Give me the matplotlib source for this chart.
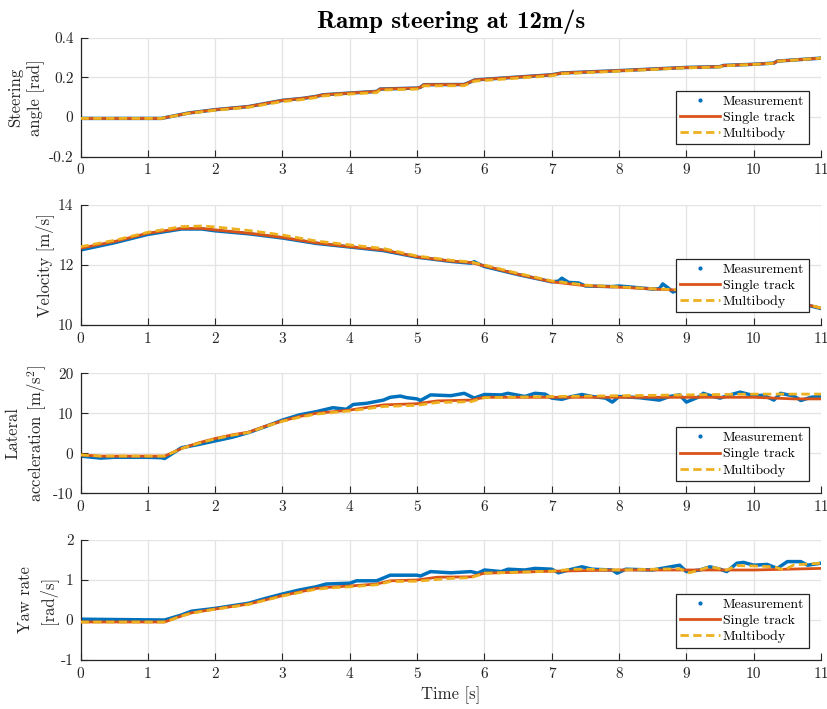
import matplotlib
matplotlib.use("Agg")
import matplotlib.pyplot as plt
from matplotlib.lines import Line2D

plt.rcParams["font.family"] = ["cmr10", "DejaVu Serif"]
plt.rcParams["mathtext.fontset"] = "cm"
plt.rcParams["axes.unicode_minus"] = False
plt.rcParams["axes.formatter.use_mathtext"] = True

BLUE = "#0072BD"
ORANGE = "#D95319"
YELLOW = "#EDB120"
DASH = (0, (3.0, 1.6))

# ---- Steering angle [rad] ----
steer_t = [0, 1.2, 1.6, 2.0, 2.5, 3.0, 3.3, 3.5, 3.6, 4.0, 4.4, 4.45, 5.0, 5.05, 5.1,
           5.7, 5.77, 5.85, 5.9, 7.0, 7.15, 8.0, 9.0, 9.5, 9.55, 10.0, 10.3, 10.35, 11.0]
steer_meas = [-0.007, -0.007, 0.02, 0.037, 0.053, 0.084, 0.094, 0.104, 0.112, 0.121, 0.129,
              0.141, 0.146, 0.150, 0.163, 0.164, 0.174, 0.186, 0.188, 0.213, 0.222, 0.234,
              0.250, 0.254, 0.260, 0.266, 0.272, 0.282, 0.297]
steer_single = [-0.007, -0.007, 0.02, 0.037, 0.053, 0.084, 0.094, 0.104, 0.112, 0.121, 0.129,
                0.141, 0.146, 0.150, 0.163, 0.164, 0.174, 0.186, 0.188, 0.213, 0.222, 0.234,
                0.250, 0.254, 0.260, 0.266, 0.272, 0.282, 0.297]
steer_multi = [-0.007, -0.007, 0.018, 0.034, 0.049, 0.078, 0.088, 0.098, 0.106, 0.116, 0.123,
               0.136, 0.141, 0.144, 0.157, 0.158, 0.168, 0.180, 0.182, 0.208, 0.218, 0.231,
               0.248, 0.252, 0.258, 0.265, 0.271, 0.281, 0.297]

# ---- Velocity [m/s] ----
vel_meas_t = [0, 0.5, 1.0, 1.5, 1.8, 2.0, 2.5, 3.0, 3.5, 4.0, 4.5, 5.0, 5.5, 5.8, 5.85,
              5.9, 6.0, 6.5, 7.0, 7.1, 7.15, 7.25, 7.4, 7.5, 7.9, 8.0, 8.5, 8.6, 8.65,
              8.72, 8.8, 8.9, 9.0, 9.5, 10.0, 10.5, 10.8, 11.0]
vel_meas = [12.50, 12.74, 13.02, 13.20, 13.20, 13.14, 13.04, 12.90, 12.72, 12.60, 12.48,
            12.26, 12.12, 12.06, 12.11, 12.05, 11.95, 11.68, 11.44, 11.46, 11.56, 11.42,
            11.40, 11.30, 11.28, 11.30, 11.20, 11.21, 11.37, 11.25, 11.10, 11.18, 11.15,
            11.04, 10.92, 10.78, 10.66, 10.55]
vel_t = [0, 0.5, 1.0, 1.5, 1.8, 2.0, 2.5, 3.0, 3.5, 4.0, 4.5, 5.0, 5.5, 5.8, 6.0, 6.5,
         7.0, 7.5, 8.0, 8.5, 8.8, 9.0, 9.5, 10.0, 10.5, 10.8, 11.0]
vel_single = [12.56, 12.78, 13.06, 13.22, 13.22, 13.17, 13.06, 12.92, 12.74, 12.61, 12.50,
              12.27, 12.13, 12.08, 11.97, 11.69, 11.44, 11.31, 11.26, 11.20, 11.17, 11.15,
              11.05, 10.92, 10.78, 10.67, 10.56]
vel_multi = [12.61, 12.82, 13.09, 13.28, 13.30, 13.27, 13.15, 13.00, 12.80, 12.67, 12.55,
             12.30, 12.16, 12.10, 12.00, 11.72, 11.47, 11.33, 11.27, 11.21, 11.18, 11.16,
             11.06, 10.93, 10.79, 10.68, 10.57]

# ---- Lateral acceleration [m/s^2] ----
lat_meas_t = [0, 0.3, 0.5, 1.0, 1.2, 1.25, 1.5, 1.75, 2.0, 2.25, 2.5, 2.75, 3.0, 3.25,
              3.5, 3.75, 3.95, 4.05, 4.25, 4.5, 4.6, 4.75, 4.85, 5.0, 5.05, 5.2, 5.5,
              5.7, 5.85, 6.0, 6.25, 6.35, 6.6, 6.75, 6.9, 7.0, 7.15, 7.3, 7.45, 7.6,
              7.8, 7.9, 8.0, 8.3, 8.6, 8.75, 8.9, 9.0, 9.2, 9.25, 9.4, 9.5, 9.65, 9.8,
              10.0, 10.15, 10.3, 10.4, 10.6, 10.7, 10.85, 11.0]
lat_meas = [-0.7, -1.2, -1.0, -1.0, -1.1, -1.3, 1.4, 2.2, 3.1, 4.0, 5.2, 6.7, 8.3, 9.6,
            10.4, 11.4, 11.0, 12.2, 12.5, 13.3, 14.0, 14.3, 13.9, 13.6, 13.2, 14.6, 14.4,
            15.0, 13.8, 14.7, 14.6, 15.0, 14.2, 15.0, 14.8, 13.8, 13.5, 14.2, 14.7, 14.2,
            13.8, 12.8, 14.2, 13.9, 13.3, 14.2, 14.6, 12.8, 14.2, 15.0, 14.2, 13.8, 14.6,
            15.3, 14.4, 14.5, 13.3, 15.0, 14.3, 13.2, 14.0, 14.3]
lat_t = [0, 0.3, 1.25, 1.5, 1.75, 2.0, 2.25, 2.5, 2.75, 3.0, 3.25, 3.5, 4.0, 4.5, 5.0,
         5.3, 5.8, 6.0, 7.0, 8.0, 9.0, 10.0, 10.6, 11.0]
lat_single = [-0.4, -0.7, -0.7, 1.2, 2.6, 3.7, 4.6, 5.3, 6.8, 8.1, 9.2, 10.0, 10.8, 12.1,
              12.4, 13.1, 13.3, 14.0, 14.0, 14.0, 14.0, 14.0, 13.6, 13.6]
lat_multi = [-0.4, -0.7, -0.7, 1.2, 2.5, 3.6, 4.5, 5.2, 6.7, 8.0, 9.0, 9.8, 10.6, 11.7,
             12.0, 12.7, 12.9, 13.9, 14.2, 14.4, 14.6, 14.8, 14.8, 14.8]

# ---- Yaw rate [rad/s] ----
yaw_meas_t = [0, 1.25, 1.5, 1.65, 2.0, 2.5, 2.75, 3.0, 3.25, 3.5, 3.65, 4.0, 4.1, 4.4,
              4.6, 5.0, 5.05, 5.2, 5.5, 5.8, 5.9, 6.0, 6.25, 6.35, 6.6, 6.75, 7.0, 7.1,
              7.25, 7.45, 7.6, 7.9, 7.97, 8.1, 8.5, 8.9, 9.0, 9.2, 9.35, 9.5, 9.6, 9.75,
              9.85, 10.0, 10.2, 10.35, 10.5, 10.7, 10.8, 11.0]
yaw_meas = [0.02, 0.0, 0.125, 0.22, 0.29, 0.42, 0.54, 0.65, 0.75, 0.83, 0.90, 0.92, 0.98,
            0.98, 1.12, 1.12, 1.10, 1.21, 1.18, 1.21, 1.17, 1.25, 1.21, 1.27, 1.25, 1.29,
            1.27, 1.18, 1.25, 1.33, 1.27, 1.25, 1.17, 1.27, 1.25, 1.37, 1.21, 1.25, 1.33,
            1.27, 1.21, 1.42, 1.44, 1.37, 1.39, 1.29, 1.46, 1.46, 1.37, 1.42]
yaw_single_t = [0, 1.25, 1.5, 1.65, 2.0, 2.5, 3.0, 3.5, 3.7, 4.0, 4.4, 4.6, 5.0, 5.3,
                5.8, 6.0, 7.0, 8.0, 9.0, 10.0, 11.0]
yaw_single = [-0.05, -0.05, 0.10, 0.18, 0.275, 0.40, 0.61, 0.79, 0.82, 0.85, 0.90, 0.98,
              1.00, 1.07, 1.08, 1.17, 1.22, 1.25, 1.25, 1.25, 1.29]
yaw_multi_t = [0, 1.25, 1.5, 1.65, 2.0, 2.5, 3.0, 3.5, 3.7, 4.0, 4.4, 4.6, 5.0, 5.5, 5.8,
               6.0, 7.0, 7.3, 7.5, 8.0, 8.5, 8.9, 9.05, 9.35, 9.6, 9.75, 10.0, 10.3,
               10.45, 10.6, 11.0]
yaw_multi = [-0.05, -0.05, 0.10, 0.17, 0.27, 0.39, 0.60, 0.77, 0.80, 0.83, 0.88, 0.96,
             0.97, 1.04, 1.06, 1.17, 1.22, 1.27, 1.27, 1.25, 1.27, 1.28, 1.18, 1.33, 1.25,
             1.36, 1.35, 1.33, 1.25, 1.38, 1.42]

x_ticks = list(range(0, 12))
x_ticklabels = [str(v) for v in x_ticks]

panels = [
    dict(meas=(steer_t, steer_meas), single=(steer_t, steer_single), multi=(steer_t, steer_multi),
         ylim=(-0.2, 0.4), yticks=[-0.2, 0, 0.2, 0.4], yticklabels=["-0.2", "0", "0.2", "0.4"],
         ylabel="Steering\nangle [rad]"),
    dict(meas=(vel_meas_t, vel_meas), single=(vel_t, vel_single), multi=(vel_t, vel_multi),
         ylim=(10, 14), yticks=[10, 12, 14], yticklabels=["10", "12", "14"],
         ylabel="Velocity [m/s]"),
    dict(meas=(lat_meas_t, lat_meas), single=(lat_t, lat_single), multi=(lat_t, lat_multi),
         ylim=(-10, 20), yticks=[-10, 0, 10, 20], yticklabels=["-10", "0", "10", "20"],
         ylabel="Lateral\nacceleration [m/s$^2$]"),
    dict(meas=(yaw_meas_t, yaw_meas), single=(yaw_single_t, yaw_single), multi=(yaw_multi_t, yaw_multi),
         ylim=(-1, 2), yticks=[-1, 0, 1, 2], yticklabels=["-1", "0", "1", "2"],
         ylabel="Yaw rate\n[rad/s]"),
]

W, H = 827, 709
fig = plt.figure(figsize=(W / 100, H / 100), dpi=100)

# axes boxes in pixels: (top, bottom)
boxes = [(37.7, 156.7), (205, 325), (373.3, 493.3), (540, 660)]
left_px, right_px = 80.5, 821

legend_handles = [
    Line2D([], [], color=BLUE, marker=".", linestyle="none", markersize=4),
    Line2D([], [], color=ORANGE, lw=2.0),
    Line2D([], [], color=YELLOW, lw=2.0, linestyle=DASH),
]
legend_labels = ["Measurement", "Single track", "Multibody"]

axes = []
for p, (top, bot) in zip(panels, boxes):
    ax = fig.add_axes([left_px / W, 1 - bot / H, (right_px - left_px) / W, (bot - top) / H])
    axes.append(ax)
    ax.plot(*p["meas"], color=BLUE, lw=2.5, solid_capstyle="round", zorder=2)
    ax.plot(*p["single"], color=ORANGE, lw=2.0, zorder=3)
    ax.plot(*p["multi"], color=YELLOW, lw=2.0, linestyle=DASH, zorder=4)
    ax.set_xlim(0, 11)
    ax.set_ylim(*p["ylim"])
    ax.set_xticks(x_ticks)
    ax.set_xticklabels(x_ticklabels)
    ax.set_yticks(p["yticks"])
    ax.set_yticklabels(p["yticklabels"])
    ax.grid(True, color="#e3e3e3", lw=0.9)
    ax.set_axisbelow(True)
    for side in ("top", "right"):
        ax.spines[side].set_visible(False)
    for side in ("left", "bottom"):
        ax.spines[side].set_color("#262626")
        ax.spines[side].set_linewidth(0.9)
    ax.tick_params(direction="in", length=5, width=0.8, color="#262626",
                   labelsize=11, labelcolor="#262626", pad=5)
    ax.set_ylabel(p["ylabel"], fontsize=12, color="#262626", linespacing=1.3,
                  multialignment="center", labelpad=3)
    leg = ax.legend(legend_handles, legend_labels, loc="lower right", fontsize=10,
                    frameon=True, fancybox=False, framealpha=1, edgecolor="#262626",
                    handlelength=2.9, handletextpad=0.2, borderpad=0.3, labelspacing=0.25,
                    borderaxespad=0.9)
    leg.get_frame().set_linewidth(0.9)

axes[0].set_title("Ramp steering at 12m/s", fontsize=18, fontfamily=["cmb10", "DejaVu Serif"],
                  fontweight="bold", pad=7)
axes[-1].set_xlabel("Time [s]", fontsize=12, color="#262626", labelpad=4)

fig.savefig("out.png", dpi=100)
